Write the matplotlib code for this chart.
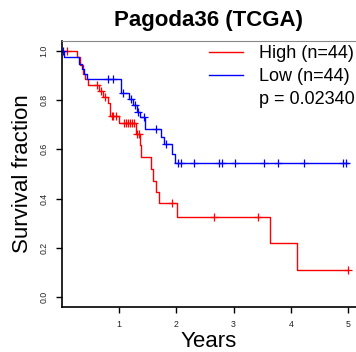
import numpy as np
import matplotlib
matplotlib.use('Agg')
import matplotlib.pyplot as plt
from matplotlib.lines import Line2D

plt.rcParams['font.family'] = ['Liberation Sans', 'DejaVu Sans']

# High group (n=44): step times (years) and survival after each step
high_t = [0.0, 0.26, 0.31, 0.37, 0.41, 0.46, 0.64, 0.71, 0.81, 0.84, 1.00,
          1.29, 1.36, 1.39, 1.55, 1.60, 1.65, 1.70, 2.01, 3.64, 4.11]
high_s = [1.0, 0.977, 0.943, 0.905, 0.884, 0.862, 0.836, 0.812, 0.790, 0.735, 0.705,
          0.664, 0.617, 0.569, 0.519, 0.470, 0.427, 0.382, 0.325, 0.218, 0.109]
high_cens = [0.09, 0.62, 0.68, 0.76, 0.87, 0.90, 0.95, 1.08, 1.12, 1.15, 1.19,
             1.23, 1.26, 1.31, 1.35, 1.92, 2.65, 3.43, 5.0]

# Low group (n=44)
low_t = [0.0, 0.04, 0.29, 0.35, 0.38, 0.44, 1.04, 1.18, 1.24, 1.32, 1.37,
         1.45, 1.73, 1.79, 1.92, 1.98]
low_s = [1.0, 0.976, 0.948, 0.926, 0.905, 0.884, 0.830, 0.806, 0.779, 0.752, 0.730,
         0.684, 0.650, 0.620, 0.583, 0.546]
low_cens = [0.02, 0.80, 0.90, 1.07, 1.20, 1.28, 1.33, 1.43, 1.65, 1.82,
            2.02, 2.08, 2.30, 2.75, 2.79, 3.02, 3.53, 3.78, 4.23, 4.91, 4.97]

end_time = 5.0
p_text = 'p = 0.02340'


def step_at(t, s, x):
    idx = np.searchsorted(t, x, side='right') - 1
    return np.asarray(s)[idx]


fig = plt.figure(figsize=(3.56, 3.52), dpi=100)
ax = fig.add_axes((0.174, 0.128, 0.826, 0.7555))

for t, s, cens, col in [(high_t, high_s, high_cens, '#FF0000'),
                        (low_t, low_s, low_cens, '#0000FF')]:
    tt = list(t) + [end_time]
    ss = list(s) + [s[-1]]
    ax.step(tt, ss, where='post', color=col, lw=1.0)
    ax.plot(cens, step_at(t, s, cens), ls='none', marker='+', color=col,
            ms=5.5, mew=0.9)

ax.set_xlim(0, 5.14)
ax.set_ylim(-0.04, 1.04)
ax.set_xticks([1, 2, 3, 4, 5])
ax.set_yticks([0.0, 0.2, 0.4, 0.6, 0.8, 1.0])
ax.set_yticklabels(['0.0', '0.2', '0.4', '0.6', '0.8', '1.0'], rotation=90, va='center')
ax.tick_params(labelsize=6.3, length=4.5, width=1, pad=5, labelcolor='#222222')

ax.spines['right'].set_visible(False)
ax.spines['top'].set_color('#888888')
ax.spines['top'].set_linewidth(0.8)
ax.spines['left'].set_linewidth(1.2)
ax.spines['bottom'].set_linewidth(1.2)

ax.set_xlabel('Years', fontsize=16, labelpad=1)
ax.set_ylabel('Survival fraction', fontsize=16, labelpad=5)
ax.set_title('Pagoda36 (TCGA)', fontsize=16, fontweight='bold', pad=10.5)

handles = [Line2D([], [], color='#FF0000', lw=1.0),
           Line2D([], [], color='#0000FF', lw=1.0),
           Line2D([], [], color='none')]
ax.legend(handles, ['High (n=44)', 'Low (n=44)', p_text], loc='upper right',
          bbox_to_anchor=(0.995, 0.985), frameon=False, fontsize=13,
          handlelength=1.85, handletextpad=0.9, labelspacing=0.33,
          borderaxespad=0, borderpad=0)

fig.savefig('out.png', dpi=100)
